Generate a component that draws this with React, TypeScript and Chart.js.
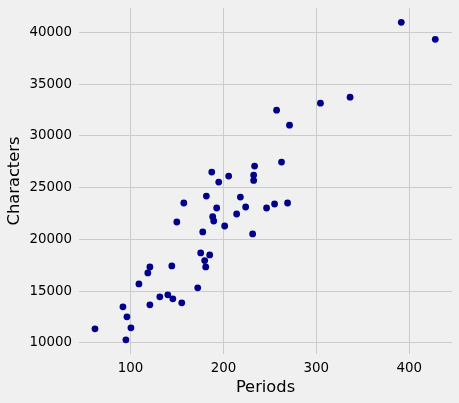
import React, { useEffect, useRef } from "react";
import { Chart, registerables } from "chart.js";

Chart.register(...registerables);

const periods = [
  391.4, 428, 336.3, 304.4, 257.2, 271.1, 262.5, 233.5, 232.5, 232.5,
  205.6, 187.4, 194.9, 181.6, 218.2, 157.3, 269, 255, 246.4, 223.9,
  192.7, 214.2, 188.4, 189.5, 149.8, 201.3, 177.7, 231.4, 175.5, 185.2,
  179.8, 180.9, 144.4, 120.8, 118.6, 109, 172.3, 140.1, 131.5, 145.5,
  155.1, 120.8, 91.8, 96.1, 100.4, 61.7, 95,
];
const characters = [
  40965, 39325, 33731, 33152, 32477, 31030, 27462, 27076, 26207, 25693,
  26111, 26497, 25532, 24182, 24086, 23507, 23507, 23411, 23025, 23122,
  23025, 22446, 22189, 21771, 21675, 21289, 20710, 20517, 18685, 18491,
  17945, 17334, 17431, 17334, 16755, 15694, 15309, 14634, 14441, 14248,
  13862, 13669, 13477, 12512, 11451, 11355, 10294,
];
const xTicks = [100, 200, 300, 400];
const yTicks = [10000, 15000, 20000, 25000, 30000, 35000, 40000];
const xLabel = "Periods";
const yLabel = "Characters";

const FONT = "'DejaVu Sans', sans-serif";

export default function App() {
  const ref = useRef<HTMLCanvasElement | null>(null);
  useEffect(() => {
    if (!ref.current) return;
    const bg = {
      id: "bg",
      beforeDraw(chart: any) {
        const c = chart.ctx;
        c.save();
        c.fillStyle = "#f0f0f0";
        c.fillRect(0, 0, chart.width, chart.height);
        c.restore();
      },
    };
    const chart = new Chart(ref.current, {
      type: "scatter",
      data: {
        datasets: [
          {
            data: periods.map((p, i) => ({ x: p, y: characters[i] })),
            backgroundColor: "#00008b",
            borderWidth: 0,
            pointRadius: 3.4,
          },
        ],
      },
      options: {
        animation: false,
        responsive: false,
        devicePixelRatio: 1,
        layout: { padding: { top: 8, right: 7, left: 0, bottom: 0 } },
        plugins: { legend: { display: false }, tooltip: { enabled: false } },
        scales: {
          x: {
            type: "linear",
            min: 44.5,
            max: 446,
            border: { display: false },
            grid: { color: "#cbcbcb", lineWidth: 1, drawTicks: false },
            afterBuildTicks: (s: any) => {
              s.ticks = xTicks.map((v) => ({ value: v }));
            },
            ticks: {
              padding: 6,
              color: "#000",
              font: { family: FONT, size: 13.4 },
              callback: (v: any) => String(v),
            },
            title: {
              display: true,
              text: xLabel,
              color: "#000",
              font: { family: FONT, size: 16.3 },
              padding: { top: 0, bottom: 5 },
            },
            afterFit: (s: any) => {
              s.height = 49;
              s.paddingLeft = 0;
              s.paddingRight = 0;
              s.paddingTop = 0;
              s.paddingBottom = 0;
            },
          },
          y: {
            type: "linear",
            min: 8920,
            max: 42350,
            border: { display: false },
            grid: { color: "#cbcbcb", lineWidth: 1, drawTicks: false },
            afterBuildTicks: (s: any) => {
              s.ticks = yTicks.map((v) => ({ value: v }));
            },
            ticks: {
              padding: 7,
              color: "#000",
              font: { family: FONT, size: 13.4 },
              callback: (v: any) => String(v),
            },
            title: {
              display: true,
              text: yLabel,
              color: "#000",
              font: { family: FONT, size: 16.3 },
              padding: { top: 5, bottom: 0 },
            },
            afterFit: (s: any) => {
              s.width = 79;
              s.paddingLeft = 0;
              s.paddingRight = 0;
              s.paddingTop = 0;
              s.paddingBottom = 0;
            },
          },
        },
      },
      plugins: [bg],
    });
    return () => chart.destroy();
  }, []);
  return (
    <div style={{ position: "fixed", left: 0, top: 0, width: 459, height: 403, background: "#f0f0f0" }}>
      <canvas ref={ref} width={459} height={403} style={{ display: "block" }} />
    </div>
  );
}
